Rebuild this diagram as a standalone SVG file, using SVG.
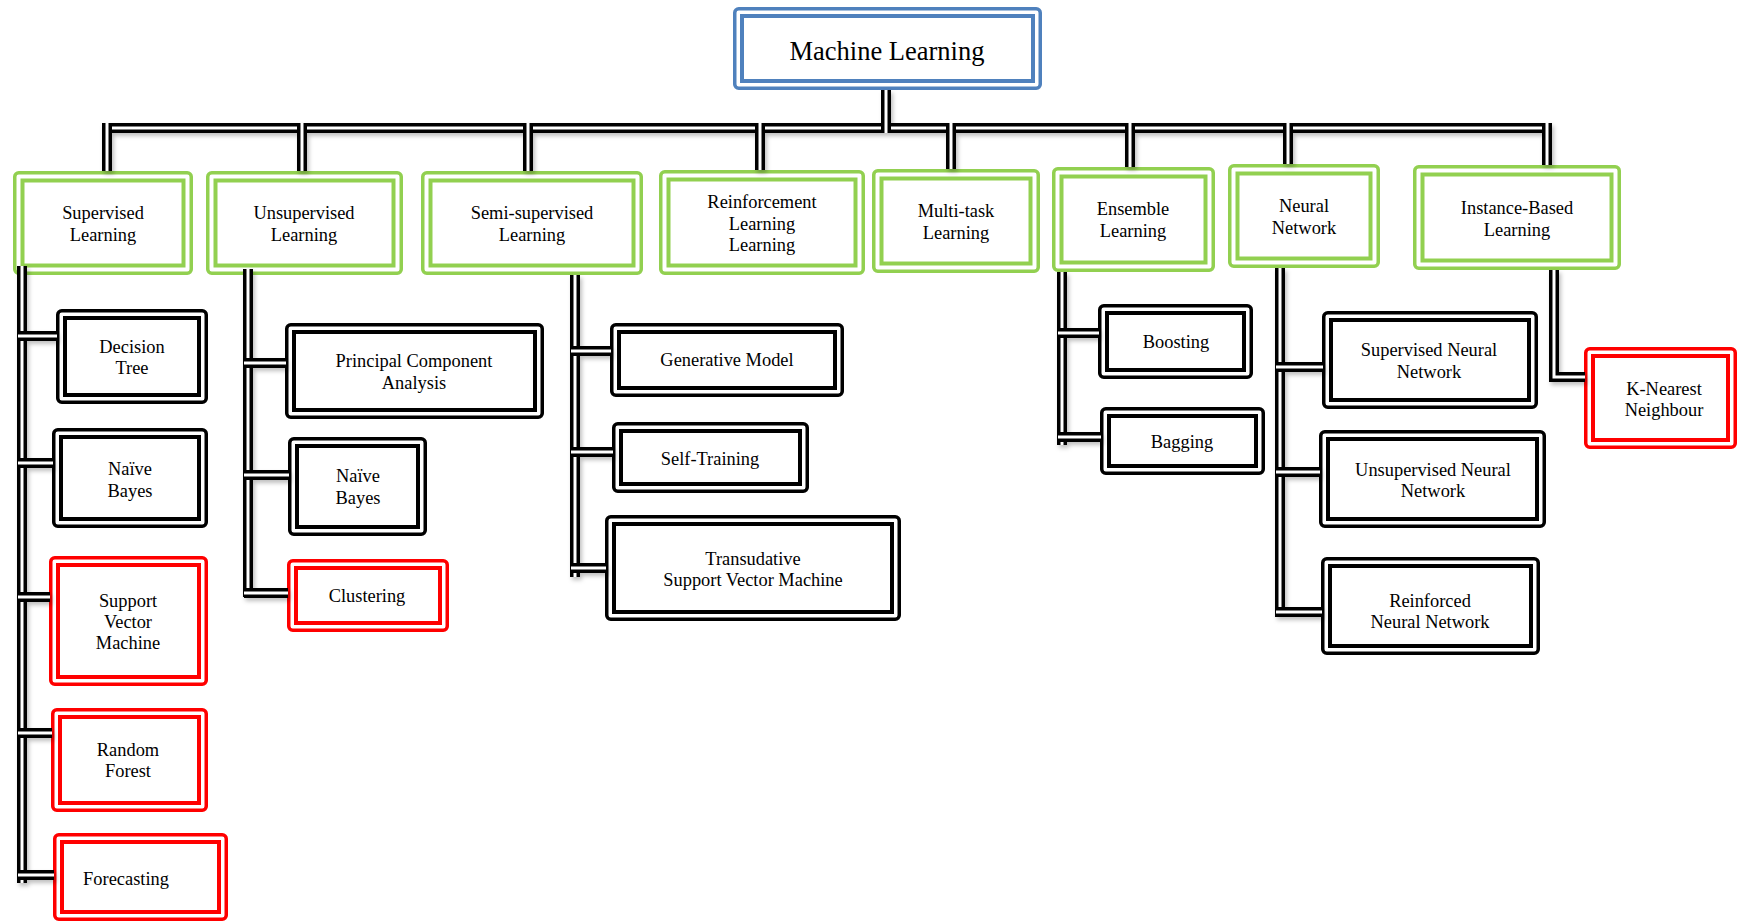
<svg xmlns="http://www.w3.org/2000/svg" width="1738" height="922" viewBox="0 0 1738 922">
<style>
rect{fill:#fff}
.o{stroke-width:3.5}
.i{stroke-width:4;fill:none}
.blk{stroke:#000}.grn{stroke:#92D050}.red{stroke:#FF0000}.blu{stroke:#4F81BD}
text{font-family:"Liberation Serif","Times New Roman",serif;font-size:18.4px;text-anchor:middle;fill:#000}
.title{font-size:26.5px}
.k{stroke:#000;stroke-width:10;fill:none;stroke-linecap:butt}
.w{stroke:#fff;stroke-width:3;fill:none;stroke-linecap:butt}
</style>
<defs>
<filter id="sh" x="-20%" y="-20%" width="140%" height="140%">
<feDropShadow dx="2" dy="3" stdDeviation="2" flood-color="#000" flood-opacity="0.25"/>
</filter>
</defs>
<rect x="0" y="0" width="1738" height="922" fill="#fff" style="stroke:none"/>

<!-- nodes -->
<g id="n-ml"><rect class="o blu" x="734.75" y="8.75" width="305.5" height="79.5" rx="4"/><rect class="i blu" x="742" y="16" width="291" height="65"/><text class="title" x="887" y="60">Machine Learning</text></g>

<g id="n-supervised"><rect class="o grn" x="14.75" y="172.75" width="176.5" height="100.5" rx="4"/><rect class="i grn" x="22.5" y="180.5" width="161" height="85"/><text x="103" y="219">Supervised<tspan x="103" dy="21.5">Learning</tspan></text></g>
<g id="n-unsupervised"><rect class="o grn" x="207.75" y="172.75" width="193.5" height="100.5" rx="4"/><rect class="i grn" x="215.5" y="180.5" width="178" height="85"/><text x="304" y="219">Unsupervised<tspan x="304" dy="21.5">Learning</tspan></text></g>
<g id="n-semi"><rect class="o grn" x="422.75" y="172.75" width="218.5" height="100.5" rx="4"/><rect class="i grn" x="430.5" y="180.5" width="203" height="85"/><text x="532" y="219">Semi-supervised<tspan x="532" dy="21.5">Learning</tspan></text></g>
<g id="n-reinforcement"><rect class="o grn" x="660.75" y="171.75" width="202.5" height="101.5" rx="4"/><rect class="i grn" x="668.5" y="179.5" width="187" height="86"/><text x="762" y="208">Reinforcement<tspan x="762" dy="21.5">Learning</tspan><tspan x="762" dy="21.5">Learning</tspan></text></g>
<g id="n-multitask"><rect class="o grn" x="873.75" y="170.75" width="164.5" height="100.5" rx="4"/><rect class="i grn" x="881.5" y="178.5" width="149" height="85"/><text x="956" y="217">Multi-task<tspan x="956" dy="21.5">Learning</tspan></text></g>
<g id="n-ensemble"><rect class="o grn" x="1053.75" y="168.75" width="159.5" height="101.5" rx="4"/><rect class="i grn" x="1061.5" y="176.5" width="144" height="86"/><text x="1133" y="215">Ensemble<tspan x="1133" dy="21.5">Learning</tspan></text></g>
<g id="n-neural"><rect class="o grn" x="1229.75" y="165.75" width="148.5" height="100.5" rx="4"/><rect class="i grn" x="1237.5" y="173.5" width="133" height="85"/><text x="1304" y="212">Neural<tspan x="1304" dy="21.5">Network</tspan></text></g>
<g id="n-instance"><rect class="o grn" x="1414.75" y="166.75" width="204.5" height="101.5" rx="4"/><rect class="i grn" x="1422.5" y="174.5" width="189" height="86"/><text x="1517" y="214">Instance-Based<tspan x="1517" dy="21.5">Learning</tspan></text></g>

<g id="n-decision-tree"><rect class="o blk" x="57.75" y="310.75" width="148.5" height="91.5" rx="4"/><rect class="i blk" x="65" y="318" width="134" height="77"/><text x="132" y="353">Decision<tspan x="132" dy="21">Tree</tspan></text></g>
<g id="n-naive-bayes-1"><rect class="o blk" x="53.75" y="429.75" width="152.5" height="96.5" rx="4"/><rect class="i blk" x="61" y="437" width="138" height="82"/><text x="130" y="475">Naïve<tspan x="130" dy="22">Bayes</tspan></text></g>
<g id="n-svm"><rect class="o red" x="50.75" y="557.75" width="155.5" height="126.5" rx="4"/><rect class="i red" x="58" y="565" width="141" height="112"/><text x="128" y="607">Support<tspan x="128" dy="21">Vector</tspan><tspan x="128" dy="21">Machine</tspan></text></g>
<g id="n-random-forest"><rect class="o red" x="52.75" y="709.75" width="153.5" height="100.5" rx="4"/><rect class="i red" x="60" y="717" width="139" height="86"/><text x="128" y="756">Random<tspan x="128" dy="21">Forest</tspan></text></g>
<g id="n-forecasting"><rect class="o red" x="54.75" y="834.75" width="171.5" height="84.5" rx="4"/><rect class="i red" x="62" y="842" width="157" height="70"/><text x="126" y="885">Forecasting</text></g>

<g id="n-pca"><rect class="o blk" x="286.75" y="324.75" width="255.5" height="92.5" rx="4"/><rect class="i blk" x="294" y="332" width="241" height="78"/><text x="414" y="367">Principal Component<tspan x="414" dy="21.5">Analysis</tspan></text></g>
<g id="n-naive-bayes-2"><rect class="o blk" x="289.75" y="438.75" width="135.5" height="95.5" rx="4"/><rect class="i blk" x="297" y="446" width="121" height="81"/><text x="358" y="482">Naïve<tspan x="358" dy="21.5">Bayes</tspan></text></g>
<g id="n-clustering"><rect class="o red" x="288.75" y="560.75" width="158.5" height="69.5" rx="4"/><rect class="i red" x="296" y="568" width="144" height="55"/><text x="367" y="602">Clustering</text></g>

<g id="n-generative"><rect class="o blk" x="611.75" y="324.75" width="230.5" height="70.5" rx="4"/><rect class="i blk" x="619" y="332" width="216" height="56"/><text x="727" y="366">Generative Model</text></g>
<g id="n-self-training"><rect class="o blk" x="613.75" y="423.75" width="193.5" height="67.5" rx="4"/><rect class="i blk" x="621" y="431" width="179" height="53"/><text x="710" y="465">Self-Training</text></g>
<g id="n-tsvm"><rect class="o blk" x="606.75" y="516.75" width="292.5" height="102.5" rx="4"/><rect class="i blk" x="614" y="524" width="278" height="88"/><text x="753" y="565">Transudative<tspan x="753" dy="21">Support Vector Machine</tspan></text></g>

<g id="n-boosting"><rect class="o blk" x="1099.75" y="305.75" width="151.5" height="71.5" rx="4"/><rect class="i blk" x="1107" y="313" width="137" height="57"/><text x="1176" y="348">Boosting</text></g>
<g id="n-bagging"><rect class="o blk" x="1101.75" y="408.75" width="161.5" height="64.5" rx="4"/><rect class="i blk" x="1109" y="416" width="147" height="50"/><text x="1182" y="448">Bagging</text></g>

<g id="n-supervised-nn"><rect class="o blk" x="1323.75" y="312.75" width="212.5" height="94.5" rx="4"/><rect class="i blk" x="1331" y="320" width="198" height="80"/><text x="1429" y="356">Supervised Neural<tspan x="1429" dy="21.5">Network</tspan></text></g>
<g id="n-unsupervised-nn"><rect class="o blk" x="1320.75" y="431.75" width="223.5" height="94.5" rx="4"/><rect class="i blk" x="1328" y="439" width="209" height="80"/><text x="1433" y="476">Unsupervised Neural<tspan x="1433" dy="21">Network</tspan></text></g>
<g id="n-reinforced-nn"><rect class="o blk" x="1322.75" y="558.75" width="215.5" height="94.5" rx="4"/><rect class="i blk" x="1330" y="566" width="201" height="80"/><text x="1430" y="607">Reinforced<tspan x="1430" dy="21">Neural Network</tspan></text></g>

<g id="n-knn"><rect class="o red" x="1585.75" y="348.75" width="149.5" height="98.5" rx="4"/><rect class="i red" x="1593" y="356" width="135" height="84"/><text x="1664" y="395">K-Nearest<tspan x="1664" dy="21">Neighbour</tspan></text></g>

<!-- connectors -->
<g id="connectors">
<g filter="url(#sh)">
<line class="k" x1="102" y1="128" x2="1552" y2="128"/><line class="w" x1="102" y1="128" x2="1552" y2="128"/>
<line class="k" x1="886" y1="90" x2="886" y2="133"/><line class="w" x1="886" y1="90" x2="886" y2="133"/>
<line class="k" x1="107" y1="123" x2="107" y2="171"/><line class="w" x1="107" y1="123" x2="107" y2="171"/>
<line class="k" x1="302" y1="123" x2="302" y2="171"/><line class="w" x1="302" y1="123" x2="302" y2="171"/>
<line class="k" x1="528" y1="123" x2="528" y2="171"/><line class="w" x1="528" y1="123" x2="528" y2="171"/>
<line class="k" x1="760" y1="123" x2="760" y2="170"/><line class="w" x1="760" y1="123" x2="760" y2="170"/>
<line class="k" x1="951" y1="123" x2="951" y2="169"/><line class="w" x1="951" y1="123" x2="951" y2="169"/>
<line class="k" x1="1130" y1="123" x2="1130" y2="167"/><line class="w" x1="1130" y1="123" x2="1130" y2="167"/>
<line class="k" x1="1288" y1="123" x2="1288" y2="164"/><line class="w" x1="1288" y1="123" x2="1288" y2="164"/>
<line class="k" x1="1547" y1="123" x2="1547" y2="165"/><line class="w" x1="1547" y1="123" x2="1547" y2="165"/>

<line class="k" x1="22" y1="266" x2="22" y2="883"/><line class="w" x1="22" y1="266" x2="22" y2="883"/>
<line class="k" x1="18" y1="336" x2="57" y2="336"/><line class="w" x1="18" y1="336" x2="57" y2="336"/>
<line class="k" x1="18" y1="463" x2="53" y2="463"/><line class="w" x1="18" y1="463" x2="53" y2="463"/>
<line class="k" x1="18" y1="597" x2="50" y2="597"/><line class="w" x1="18" y1="597" x2="50" y2="597"/>
<line class="k" x1="18" y1="733" x2="52" y2="733"/><line class="w" x1="18" y1="733" x2="52" y2="733"/>
<line class="k" x1="18" y1="875" x2="54" y2="875"/><line class="w" x1="18" y1="875" x2="54" y2="875"/>

<line class="k" x1="248" y1="269" x2="248" y2="597"/><line class="w" x1="248" y1="269" x2="248" y2="597"/>
<line class="k" x1="244" y1="363" x2="286" y2="363"/><line class="w" x1="244" y1="363" x2="286" y2="363"/>
<line class="k" x1="244" y1="475" x2="289" y2="475"/><line class="w" x1="244" y1="475" x2="289" y2="475"/>
<line class="k" x1="244" y1="593" x2="288" y2="593"/><line class="w" x1="244" y1="593" x2="288" y2="593"/>

<line class="k" x1="575" y1="275" x2="575" y2="577"/><line class="w" x1="575" y1="275" x2="575" y2="577"/>
<line class="k" x1="571" y1="351" x2="611" y2="351"/><line class="w" x1="571" y1="351" x2="611" y2="351"/>
<line class="k" x1="571" y1="452" x2="613" y2="452"/><line class="w" x1="571" y1="452" x2="613" y2="452"/>
<line class="k" x1="571" y1="568" x2="606" y2="568"/><line class="w" x1="571" y1="568" x2="606" y2="568"/>

<line class="k" x1="1062" y1="272" x2="1062" y2="445"/><line class="w" x1="1062" y1="272" x2="1062" y2="445"/>
<line class="k" x1="1058" y1="333" x2="1099" y2="333"/><line class="w" x1="1058" y1="333" x2="1099" y2="333"/>
<line class="k" x1="1058" y1="437" x2="1101" y2="437"/><line class="w" x1="1058" y1="437" x2="1101" y2="437"/>

<line class="k" x1="1280" y1="268" x2="1280" y2="617"/><line class="w" x1="1280" y1="268" x2="1280" y2="617"/>
<line class="k" x1="1276" y1="367" x2="1323" y2="367"/><line class="w" x1="1276" y1="367" x2="1323" y2="367"/>
<line class="k" x1="1276" y1="472" x2="1320" y2="472"/><line class="w" x1="1276" y1="472" x2="1320" y2="472"/>
<line class="k" x1="1276" y1="612" x2="1322" y2="612"/><line class="w" x1="1276" y1="612" x2="1322" y2="612"/>

<path class="k" d="M1554 270 V377 H1585"/><path class="w" d="M1554 270 V377 H1585"/>
</g>
</g>
</svg>
